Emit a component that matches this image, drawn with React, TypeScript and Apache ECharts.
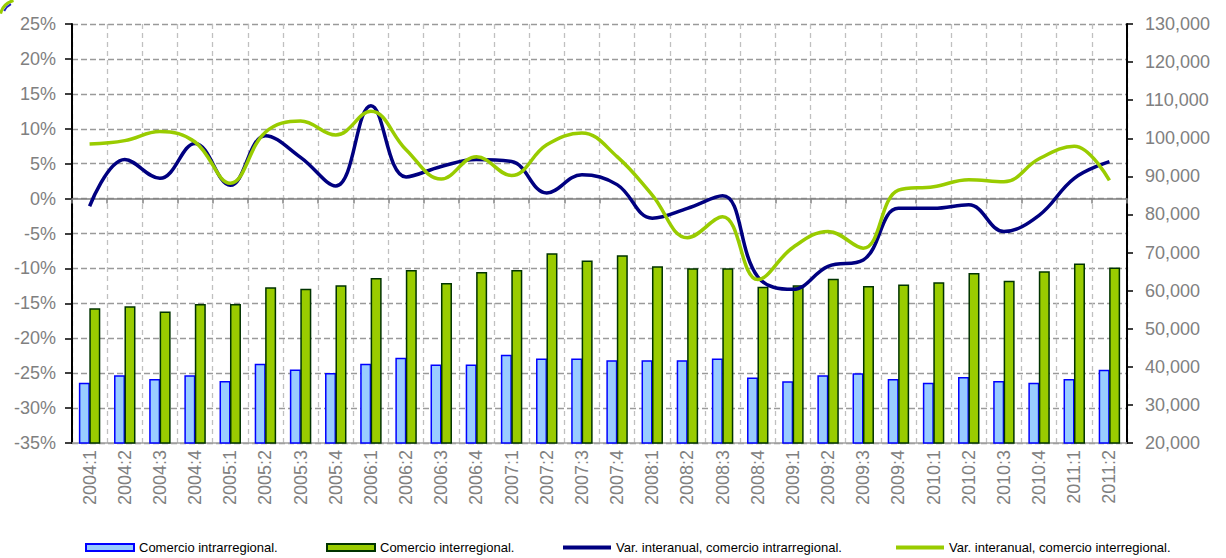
import React, { useEffect, useRef } from "react";
import * as echarts from "echarts";

const categories = [
  "2004:1", "2004:2", "2004:3", "2004:4",
  "2005:1", "2005:2", "2005:3", "2005:4",
  "2006:1", "2006:2", "2006:3", "2006:4",
  "2007:1", "2007:2", "2007:3", "2007:4",
  "2008:1", "2008:2", "2008:3", "2008:4",
  "2009:1", "2009:2", "2009:3", "2009:4",
  "2010:1", "2010:2", "2010:3", "2010:4",
  "2011:1", "2011:2",
];

const intraTrade = [
  35800, 37800, 36800, 37800,
  36300, 40800, 39300, 38400,
  40800, 42400, 40600, 40600,
  43200, 42200, 42200, 41700,
  41700, 41700, 42200, 37200,
  36200, 37800, 38300, 36800,
  35800, 37300, 36300, 35800,
  36800, 39200,
];

const interTrade = [
  55400, 55900, 54500, 56500,
  56500, 60900, 60500, 61400,
  63300, 65400, 62000, 64900,
  65400, 69800, 67900, 69300,
  66400, 65900, 65900, 61000,
  61400, 63100, 61200, 61600,
  62200, 64600, 62600, 65100,
  67100, 66100,
];

const intraVar = [
  -1.1, 5.6, 2.9, 7.9,
  1.9, 9.0, 5.9, 1.8,
  13.3, 3.1, 4.6, 5.6,
  5.3, 0.8, 3.4, 2.0,
  -2.8, -1.4, 0.4, -11.2,
  -13.0, -9.7, -8.8, -1.4,
  -1.4, -0.9, -4.7, -2.4,
  2.9, 5.3,
];

const interVar = [
  7.8, 8.3, 9.6, 8.1,
  2.2, 9.5, 11.1, 9.1,
  12.5, 7.0, 2.8, 6.0,
  3.3, 7.7, 9.4, 6.0,
  0.5, -5.6, -2.6, -11.6,
  -7.0, -4.7, -7.1, 1.2,
  1.7, 2.7, 2.4, 5.7,
  7.5, 2.6,
];

const seriesNames = [
  "Comercio intrarregional.",
  "Comercio interregional.",
  "Var. interanual, comercio intrarregional.",
  "Var. interanual, comercio interregional.",
];

const FONT = "'Liberation Sans', Arial, sans-serif";
const GREY = "#808080";

export default function App() {
  const ref = useRef<HTMLDivElement>(null);

  useEffect(() => {
    if (!ref.current) return;
    const chart = echarts.init(ref.current, null, { renderer: "svg" });

    const legendBase = {
      orient: "horizontal",
      top: 541,
      padding: 0,
      itemWidth: 48,
      itemGap: 0,
      textStyle: { color: "#000", fontSize: 13, fontFamily: FONT },
      selectedMode: false,
    };

    const option = {
      animation: false,
      backgroundColor: "#ffffff",
      textStyle: { fontFamily: FONT },
      grid: {
        left: 72,
        right: 99,
        top: 24,
        bottom: 115,
        containLabel: false,
        outerBoundsMode: "none",
      },
      legend: [
        { ...legendBase, left: 85, itemHeight: 7, data: [{ name: seriesNames[0], icon: "rect" }] },
        { ...legendBase, left: 326, itemHeight: 7, data: [{ name: seriesNames[1], icon: "rect" }] },
        { ...legendBase, left: 563, itemHeight: 4, data: [{ name: seriesNames[2], icon: "rect" }] },
        { ...legendBase, left: 896, itemHeight: 4, data: [{ name: seriesNames[3], icon: "rect" }] },
      ],
      xAxis: [
        {
          type: "category",
          data: categories,
          position: "bottom",
          boundaryGap: true,
          axisLine: { show: true, onZero: false, lineStyle: { color: "#a0a0a0", width: 1.5 } },
          axisTick: { show: false },
          axisLabel: {
            rotate: 90,
            interval: 0,
            margin: 7,
            color: GREY,
            fontSize: 18,
            fontFamily: FONT,
          },
          splitLine: {
            show: true,
            interval: 0,
            lineStyle: { color: "#c0c0c0", width: 1.3, type: [5, 4] },
          },
        },
        {
          type: "category",
          data: categories,
          position: "bottom",
          boundaryGap: true,
          axisLine: {
            show: true,
            onZero: true,
            onZeroAxisIndex: 0,
            lineStyle: { color: GREY, width: 1.5 },
          },
          axisTick: { show: true, inside: false, length: 5, interval: 0, lineStyle: { color: GREY, width: 1.5 } },
          axisLabel: { show: false },
          splitLine: { show: false },
        },
      ],
      yAxis: [
        {
          type: "value",
          position: "left",
          min: -35,
          max: 25,
          interval: 5,
          axisLine: { show: true, onZero: false, lineStyle: { color: "#000", width: 2 } },
          axisTick: { show: true, length: 7, lineStyle: { color: "#000", width: 1.5 } },
          axisLabel: {
            formatter: "{value}%",
            color: GREY,
            fontSize: 18,
            fontFamily: FONT,
            margin: 16,
          },
          splitLine: {
            show: true,
            lineStyle: { color: "#9a9a9a", width: 1.3, type: [6, 3] },
          },
        },
        {
          type: "value",
          position: "right",
          min: 20000,
          max: 130000,
          interval: 10000,
          axisLine: { show: true, onZero: false, lineStyle: { color: "#000", width: 2 } },
          axisTick: { show: true, length: 6, lineStyle: { color: "#000", width: 1.5 } },
          axisLabel: {
            formatter: (v: number) => v.toLocaleString("en-US"),
            color: GREY,
            fontSize: 18,
            fontFamily: FONT,
            margin: 18,
          },
          splitLine: { show: false },
        },
      ],
      series: [
        {
          name: seriesNames[0],
          type: "bar",
          yAxisIndex: 1,
          data: intraTrade,
          barWidth: 11,
          barGap: "-5%",
          itemStyle: { color: "#99CCFF", borderColor: "#0000FF", borderWidth: 1.5 },
          z: 2,
        },
        {
          name: seriesNames[1],
          type: "bar",
          yAxisIndex: 1,
          data: interTrade,
          barWidth: 11,
          itemStyle: { color: "#99CC00", borderColor: "#003300", borderWidth: 1.5 },
          z: 2,
        },
        {
          name: seriesNames[2],
          type: "line",
          yAxisIndex: 0,
          data: intraVar,
          smooth: 0.4,
          symbol: "none",
          showSymbol: false,
          lineStyle: { color: "#000080", width: 3.5 },
          itemStyle: { color: "#000080" },
          z: 4,
        },
        {
          name: seriesNames[3],
          type: "line",
          yAxisIndex: 0,
          data: interVar,
          smooth: 0.4,
          symbol: "none",
          showSymbol: false,
          lineStyle: { color: "#99CC00", width: 3.5 },
          itemStyle: { color: "#99CC00" },
          z: 5,
        },
      ],
      graphic: [
        {
          type: "arc",
          silent: true,
          shape: { cx: 18, cy: 18, r: 18, startAngle: Math.PI * 1.08, endAngle: Math.PI * 1.42 },
          style: { stroke: "#99CC00", lineWidth: 3, fill: "none" },
        },
        {
          type: "arc",
          silent: true,
          shape: { cx: 18, cy: 18, r: 15.5, startAngle: Math.PI * 1.15, endAngle: Math.PI * 1.35 },
          style: { stroke: "#2020c0", lineWidth: 2, fill: "none" },
        },
      ],
    };

    chart.setOption(option as any);
    return () => {
      chart.dispose();
    };
  }, []);

  return (
    <div
      ref={ref}
      style={{ position: "fixed", left: 0, top: 0, width: 1226, height: 558 }}
    />
  );
}
